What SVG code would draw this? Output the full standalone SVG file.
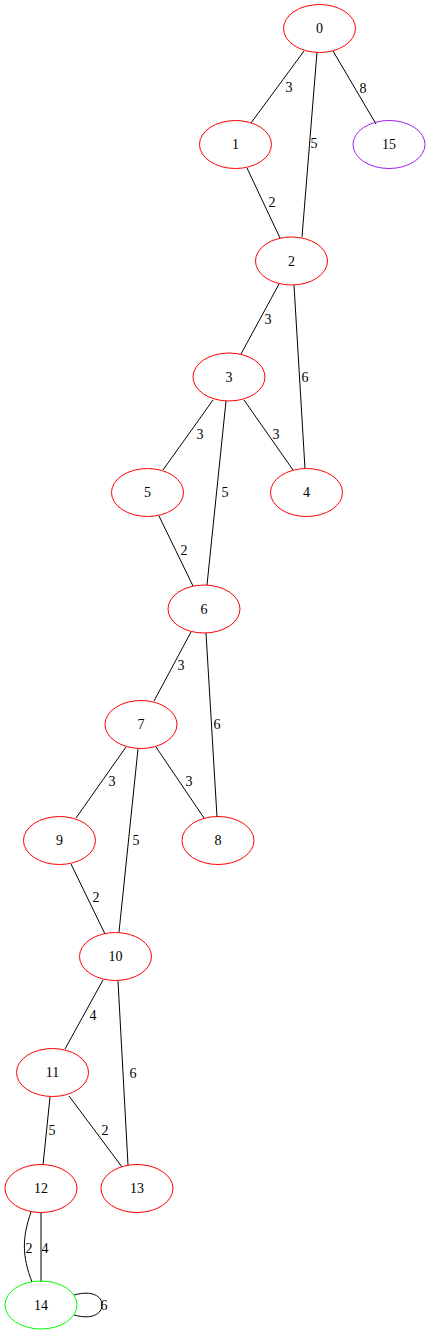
<svg xmlns="http://www.w3.org/2000/svg" width="431" height="1335" viewBox="0 0 431 1335">
<style>
.n ellipse{fill:none;stroke:#ff0000;stroke-width:1}
.n text,.l{font-family:"Liberation Serif","Times New Roman",serif;font-size:14px;fill:#000}
.n text{text-anchor:middle}
.l{text-anchor:middle}
#edges path,#edges line{stroke:#000;stroke-width:1;fill:none}
</style>
<rect width="431" height="1335" fill="#fff"/>
<g id="edges">
<line x1="304" y1="51" x2="251" y2="123"/><text class="l" x="289" y="92">3</text>
<line x1="317" y1="52" x2="302" y2="237"/><text class="l" x="314" y="148">5</text>
<line x1="333" y1="51" x2="376" y2="124"/><text class="l" x="363" y="93">8</text>
<line x1="247" y1="168" x2="280" y2="238"/><text class="l" x="272" y="207">2</text>
<line x1="279" y1="284" x2="241" y2="354"/><text class="l" x="268" y="324">3</text>
<line x1="294" y1="285" x2="305" y2="469"/><text class="l" x="305" y="382">6</text>
<line x1="213" y1="400" x2="163" y2="470"/><text class="l" x="200" y="439">3</text>
<line x1="226" y1="401" x2="207" y2="585"/><text class="l" x="225" y="497">5</text>
<line x1="244" y1="400" x2="293" y2="470"/><text class="l" x="276" y="439">3</text>
<line x1="159" y1="516" x2="193" y2="586"/><text class="l" x="184" y="555">2</text>
<line x1="191" y1="632" x2="154" y2="701"/><text class="l" x="181" y="670">3</text>
<line x1="206" y1="633" x2="217" y2="817"/><text class="l" x="217" y="729">6</text>
<line x1="126" y1="747" x2="76" y2="818"/><text class="l" x="112" y="786">3</text>
<line x1="138" y1="749" x2="119" y2="932"/><text class="l" x="136" y="845">5</text>
<line x1="156" y1="747" x2="204" y2="818"/><text class="l" x="189" y="786">3</text>
<line x1="71" y1="864" x2="105" y2="934"/><text class="l" x="96" y="902">2</text>
<line x1="103" y1="980" x2="65" y2="1049"/><text class="l" x="93" y="1020">4</text>
<line x1="118" y1="981" x2="128" y2="1165"/><text class="l" x="133" y="1078">6</text>
<line x1="50" y1="1097" x2="43" y2="1165"/><text class="l" x="52" y="1135">5</text>
<line x1="69" y1="1096" x2="122" y2="1167"/><text class="l" x="105" y="1135">2</text>
<path d="M31,1212 C22,1238 22,1256 32,1282"/><text class="l" x="29" y="1253">2</text>
<line x1="41" y1="1213" x2="41" y2="1282"/><text class="l" x="45" y="1253">4</text>
<path d="M74,1295 C92,1290 102,1296 102,1305 C102,1314 92,1320 74,1315"/><text class="l" x="104" y="1310">6</text>
</g>
<g id="n0" class="n"><ellipse cx="319.5" cy="28.5" rx="36" ry="24"/><text x="319.5" y="33">0</text></g>
<g id="n1" class="n"><ellipse cx="235.5" cy="144.5" rx="36" ry="24"/><text x="235.5" y="149">1</text></g>
<g id="n15" class="n"><ellipse cx="389" cy="144.5" rx="36" ry="24" style="stroke:#a020f0"/><text x="389" y="149">15</text></g>
<g id="n2" class="n"><ellipse cx="291.5" cy="261" rx="36" ry="24"/><text x="291.5" y="265.5">2</text></g>
<g id="n3" class="n"><ellipse cx="229" cy="377" rx="36" ry="24"/><text x="229" y="381.5">3</text></g>
<g id="n5" class="n"><ellipse cx="147.5" cy="492.5" rx="36" ry="24"/><text x="147.5" y="497">5</text></g>
<g id="n4" class="n"><ellipse cx="306.5" cy="492.5" rx="36" ry="24"/><text x="306.5" y="497">4</text></g>
<g id="n6" class="n"><ellipse cx="204" cy="609" rx="36" ry="24"/><text x="204" y="613.5">6</text></g>
<g id="n7" class="n"><ellipse cx="141" cy="724.5" rx="36" ry="24"/><text x="141" y="729">7</text></g>
<g id="n9" class="n"><ellipse cx="59.5" cy="840.5" rx="36" ry="24"/><text x="59.5" y="845">9</text></g>
<g id="n8" class="n"><ellipse cx="218" cy="840.5" rx="36" ry="24"/><text x="218" y="845">8</text></g>
<g id="n10" class="n"><ellipse cx="115.5" cy="956.5" rx="36" ry="24"/><text x="115.5" y="961">10</text></g>
<g id="n11" class="n"><ellipse cx="52.5" cy="1072.5" rx="36" ry="24"/><text x="52.5" y="1077">11</text></g>
<g id="n12" class="n"><ellipse cx="41" cy="1188.5" rx="36" ry="24"/><text x="41" y="1193">12</text></g>
<g id="n13" class="n"><ellipse cx="137" cy="1188.5" rx="36" ry="24"/><text x="137" y="1193">13</text></g>
<g id="n14" class="n"><ellipse cx="41" cy="1305" rx="36" ry="24" style="stroke:#00ff00"/><text x="41" y="1309.5">14</text></g>
</svg>
